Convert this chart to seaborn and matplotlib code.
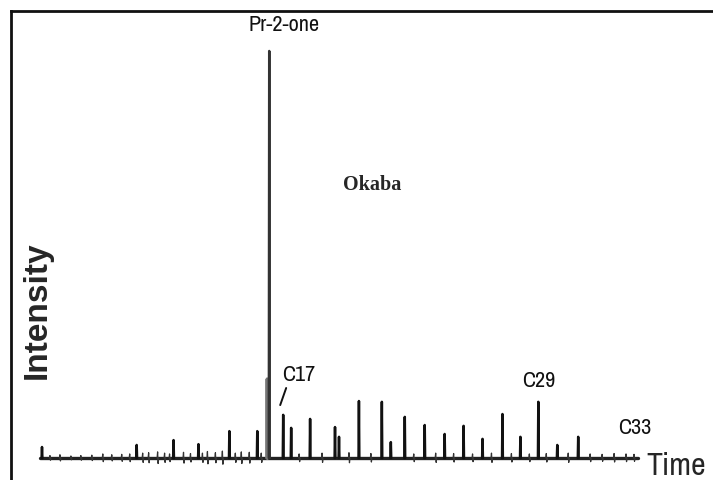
import matplotlib
matplotlib.use("Agg")
import matplotlib.pyplot as plt
import seaborn as sns
import pandas as pd

# ---- data (time in min, relative intensity %) ----
peak_times = [0.2, 9.7, 13.4, 15.9, 19.0, 21.8, 22.8, 23.0, 24.4, 25.2, 27.1,
              29.6, 30.0, 32.0, 34.3, 35.2, 36.6, 38.6, 40.6, 42.5, 44.4,
              46.4, 48.2, 50.0, 51.9, 54.0]
peak_heights = [2.7, 3.2, 4.4, 3.4, 6.6, 6.6, 19.4, 100.0, 10.6, 7.4, 9.6,
                7.6, 5.2, 14.0, 13.8, 3.9, 10.1, 8.1, 5.9, 7.9, 4.7,
                10.8, 5.2, 13.8, 3.2, 5.2]
peak_colors = ["#111111"] * len(peak_times)
peak_colors[6] = "#777777"
peak_colors[7] = "#333333"

# small baseline noise spikes
noise_times = [1.0, 2.0, 3.1, 4.1, 5.2, 6.3, 7.2, 8.2, 9.0, 10.3, 10.9, 11.8,
               12.5, 13.0, 14.4, 15.1, 16.3, 16.8, 17.6, 18.3, 19.6, 20.2,
               21.0, 22.2, 26.0, 28.3, 31.0, 33.2, 37.5, 39.7, 41.5, 43.4,
               45.3, 47.3, 49.1, 50.8, 53.0, 55.2, 56.4, 57.6, 58.8, 59.6]
noise_heights = [0.6, 0.8, 0.5, 0.6, 0.7, 1.0, 0.8, 0.9, 1.0, 1.2, 1.3, 1.5,
                 1.2, 1.0, 1.4, 1.1, 1.2, 1.6, 1.3, 1.7, 1.2, 1.5,
                 1.4, 1.2, 1.0, 1.2, 1.3, 1.1, 1.0, 1.2, 1.1, 1.0,
                 1.2, 1.1, 1.0, 1.1, 1.2, 1.0, 0.9, 1.1, 1.0, 0.9]

run_start, run_end = 0.0, 60.0

peak_labels = ["Pr-2-one", "C17", "C29", "C33"]

# ---- build a trace from the peak list ----
rows = []
for pid, (t, h) in enumerate(zip(peak_times, peak_heights)):
    rows += [(t - 0.04, 0.0, pid), (t, h, pid), (t + 0.04, 0.0, pid)]
df = pd.DataFrame(rows, columns=["time", "intensity", "peak"])

nrows = []
for i, (t, h) in enumerate(zip(noise_times, noise_heights)):
    nrows += [(t - 0.05, 0.0, i), (t, h, i), (t + 0.05, -h * 0.9, i), (t + 0.1, 0.0, i)]
ndf = pd.DataFrame(nrows, columns=["time", "intensity", "peak"])

sns.set_style("white")

fig = plt.figure(figsize=(7.13, 4.80), dpi=100)
# axes frame: left edge at x=11px, top at y=11px; right/bottom run past the picture
ax = fig.add_axes([11 / 713, 0.0, 702 / 713, 469 / 480])

px_per_min = 598 / 60.0
px_per_unit = (458 - 51) / 100.0
ax.set_xlim(-29 / px_per_min, 673 / px_per_min)
ax.set_ylim(-22 / px_per_unit, 447 / px_per_unit)

# baseline
base = pd.DataFrame({"time": [run_start, run_end], "intensity": [0.0, 0.0]})
sns.lineplot(data=base, x="time", y="intensity", ax=ax, color="#222222",
             linewidth=2.4, estimator=None)

sns.lineplot(data=ndf, x="time", y="intensity", units="peak", estimator=None,
             sort=False, ax=ax, color="#333333", linewidth=0.9)

for pid, c in enumerate(peak_colors):
    sub = df[df["peak"] == pid]
    sns.lineplot(data=sub, x="time", y="intensity", estimator=None, sort=False,
                 ax=ax, color=c, linewidth=1.8 if pid != 6 else 2.4)

# spines
for s in ["right", "bottom"]:
    ax.spines[s].set_visible(False)
for s in ["left", "top"]:
    ax.spines[s].set_linewidth(2.0)
    ax.spines[s].set_color("#111111")
ax.set_xticks([])
ax.set_yticks([])
ax.set_xlabel("")
ax.set_ylabel("")

narrow = ["Archivo Narrow", "PT Sans Narrow", "Liberation Sans", "DejaVu Sans"]

# peak labels
ax.text(23.0 + 1.5, 100 + 6.5, peak_labels[0], fontsize=16, family=narrow,
        ha="center", va="center", color="#111111")
ax.text(24.4 + 1.6, 20.3, peak_labels[1], fontsize=16, family=narrow,
        ha="center", va="center", color="#111111")
ax.plot([24.1, 24.7], [13.0, 17.2], color="#111111", linewidth=1.4)
ax.text(50.0, 19.0, peak_labels[2], fontsize=16, family=narrow,
        ha="center", va="center", color="#111111")
ax.text(59.7, 7.3, peak_labels[3], fontsize=16, family=narrow,
        ha="center", va="center", color="#111111")

# sample name
fig.text(372 / 713, 1 - 185 / 480, "Okaba", fontsize=14.5,
         family=["Liberation Serif", "DejaVu Serif"], fontweight="bold",
         ha="center", va="center")

# axis titles
fig.text(37 / 713, 1 - 310 / 480, "Intensity", fontsize=24, rotation=90,
         family=["Liberation Sans", "DejaVu Sans"], fontweight="bold",
         ha="center", va="center")
fig.text(646 / 713, 1 - 475 / 480, "Time", fontsize=23, family=narrow,
         ha="left", va="baseline")

fig.savefig("out.png", dpi=100)
